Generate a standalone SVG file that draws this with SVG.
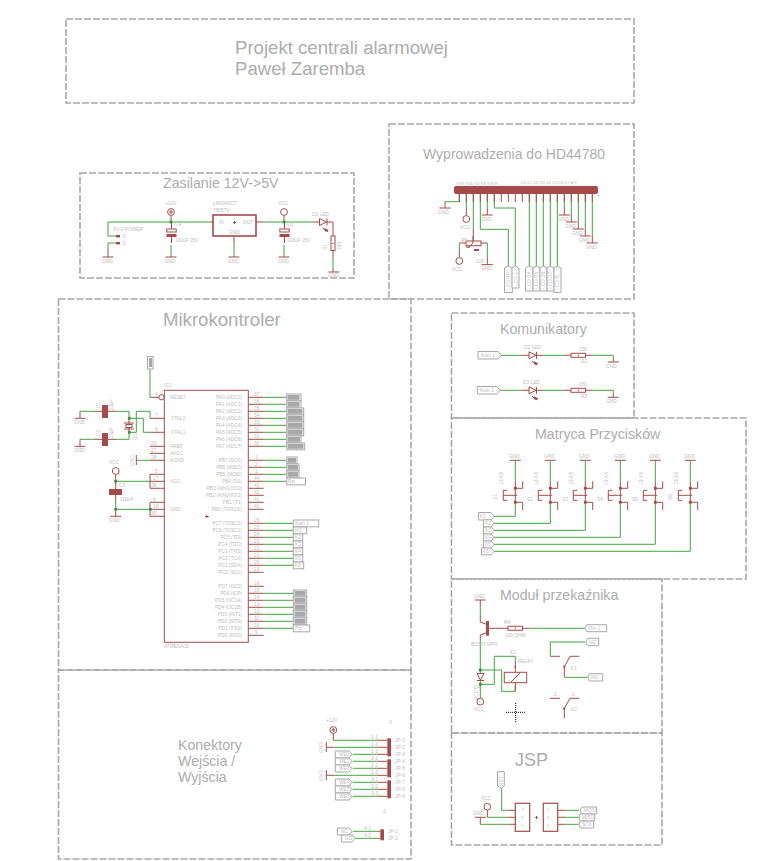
<svg xmlns="http://www.w3.org/2000/svg" xmlns:xlink="http://www.w3.org/1999/xlink" width="778" height="861" viewBox="0 0 778 861">
<style>
text{font-family:"Liberation Sans",Arial,sans-serif;fill:#adadad}
.f{fill:none;stroke:#a8a8a8;stroke-width:1.600;stroke-dasharray:7 2}
.w{fill:none;stroke:#41a541;stroke-width:1}
.r{fill:none;stroke:#a54a4a;stroke-width:1}
.s{fill:#fff;stroke:#a54a4a;stroke-width:1}
.th{fill:none;stroke:#a54a4a;stroke-width:1.600}
.k{fill:#a54a4a;stroke:none}
.j{fill:#3f8f3f;stroke:none}
.b{fill:#fff;stroke:#a8a8a8;stroke-width:1}
.bi{fill:#a8a8a8;stroke:none}
.t{font-size:4.800px;fill:#bcbcbc}
.e{font-size:4.800px;text-anchor:end;fill:#bcbcbc}
.h14{font-size:14.200px}
.h18{font-size:18.600px}
.x{fill:none;stroke:#000;stroke-width:1;stroke-dasharray:1 1}
</style>
<defs>
<path id="gnd" class="r" d="M-5.500 0H5.500"/>
<circle id="vcc" class="s" r="3.400"/>
<g id="pl"><circle class="s" r="3.400"/><path class="r" d="M-2 0H2M0-2V2"/></g>
<rect id="junc" class="j" x="-1.400" y="-1.400" width="2.800" height="2.800"/>
<g id="cap"><rect class="s" x="-4.700" y="0" width="9.400" height="3"/><rect class="k" x="-5" y="5" width="10" height="3"/><path class="r" d="M0-6V0M0 8V14"/></g>
<g id="led"><path class="s" d="M0-3.500L7 0L0 3.500Z"/><path class="r" d="M7.500-3.500V3.500"/><path class="k" d="M5 6L9 8L8 10L5 9Z"/><path class="r" d="M3 6L6 8"/></g>
<g id="res"><rect class="s" x="0" y="-2" width="14.500" height="4"/><path class="k" d="M6.700-0.400H7.700V-1.500H8V1.500H7.700V0.400H6.700Z"/></g>
<g id="sw"><path class="r" d="M-12-5H-8M-12 5H-8M-12-5V5M-12 0H-2M0-7V7M-2 0H2M0-7H7.400V-14M0 7H7.400V14.700"/><rect class="k" x="-1.400" y="-8.400" width="2.800" height="2.800"/><rect class="k" x="-1.400" y="5.600" width="2.800" height="2.800"/></g>
</defs>

<g id="frames">
<rect class="f" x="66" y="19" width="568" height="84"/>
<rect class="f" x="80" y="173" width="274" height="105"/>
<rect class="f" x="389" y="124" width="245" height="175"/>
<rect class="f" x="58.500" y="299" width="352.500" height="371"/>
<rect class="f" x="58.500" y="670" width="352.500" height="189"/>
<rect class="f" x="451.500" y="313" width="182.500" height="105"/>
<rect class="f" x="451.500" y="418" width="294.500" height="161"/>
<rect class="f" x="451.500" y="579" width="210.500" height="154"/>
<rect class="f" x="451.500" y="733" width="210.500" height="112"/>
</g>

<g id="titles">
<text class="h18" x="235" y="54">Projekt centrali alarmowej</text>
<text class="h18" x="235" y="75">Paweł Zaremba</text>
<text class="h14" x="163" y="188">Zasilanie 12V-&gt;5V</text>
<text class="h14" x="423" y="159" textLength="182" lengthAdjust="spacingAndGlyphs">Wyprowadzenia do HD44780</text>
<text class="h18" x="163" y="326">Mikrokontroler</text>
<text class="h14" x="500" y="334">Komunikatory</text>
<text class="h14" x="535" y="439">Matryca Przycisków</text>
<text class="h14" x="500" y="600">Moduł przekaźnika</text>
<text class="h14" x="178" y="750">Konektory</text>
<text class="h14" x="178" y="766">Wejścia /</text>
<text class="h14" x="178" y="782">Wyjścia</text>
<text x="515" y="766" style="font-size:18px">JSP</text>
</g>

<g id="connectors">
<path class="w" d="M120 236H108V222H210M263 222H313M108 249V243H120M171 245V257M284 245V257M234 243V257M333 258V268"/>
<path class="r" d="M108 249V257M171 216V223M284 216V223M327 222H333V236M333 251V258M333 268V272M234 236V243"/>
<path class="w" d="M459.300 194V201.700H445M466.300 194V208M473.300 194V229M480.300 194V229.300H508.300V266M487.300 194V208M494.300 194V208H515.300V266M529.300 194V266M536.300 194V266M543.300 194V266M550.300 194V266M557.300 194V266M564.300 194V208M571.300 194V215M578.300 194V222M585.300 194V229M592.300 194V236M459.300 243V250M487.300 243V257"/>
<path class="r" d="M459.300 194V202M466.300 194V202M473.300 194V202M480.300 194V202M487.300 194V202M494.300 194V202M501.300 194V202M508.300 194V202M515.300 194V202M522.300 194V202M529.300 194V202M536.300 194V202M543.300 194V202M550.300 194V202M557.300 194V202M564.300 194V202M571.300 194V202M578.300 194V202M585.300 194V202M592.300 194V202"/>
<path class="r" d="M445 201.700V208M466.300 208V215.500M473.300 229V241M459.300 243H466M481 243H487.300M459.300 250V257M487.300 257V264.600M487.300 208V215M564.300 208V215M571.300 215V222M578.300 222V229M585.300 229V236M592.300 236V243"/>
<path class="w" d="M150 369V397.300M80 411.300H94M80 439.300H94M116 411.300H129V418.300M116 439.300H129V432.300M129 418.300H143.300V432.300H150M129 432.300H136.300V411.300H150V418.300M136.300 460.300H150M115.700 481.300H150M115.700 500V509.300H150"/>
<path class="r" d="M150 397.300H159M150 418.300H164M150 432.300H164M150 446.300H164M150 453.300H164M150 460.300H164M150 474.300H164M150 481.300H164M150 488.300H164M150 502.300H164M150 509.300H164M150 516.300H164M150 474.300V488.300M150 502.300V516.300M80 411.300V418.300M80 439.300V446.300M94 411.300H102M108 411.300H116M94 439.300H102M108 439.300H116M129 418.300V424M129 432.300V428M115.700 474.400V489M115.700 495V500M115.700 509.300V516.300"/>
<path class="r" d="M248.300 397.300H263.700M248.300 404.300H263.700M248.300 411.300H263.700M248.300 418.300H263.700M248.300 425.300H263.700M248.300 432.300H263.700M248.300 439.300H263.700M248.300 446.300H263.700M248.300 460.300H263.700M248.300 467.300H263.700M248.300 474.300H263.700M248.300 481.300H263.700M248.300 488.300H263.700M248.300 495.300H263.700M248.300 502.300H263.700M248.300 509.300H263.700M248.300 523.300H263.700M248.300 530.300H263.700M248.300 537.300H263.700M248.300 544.300H263.700M248.300 551.300H263.700M248.300 558.300H263.700M248.300 565.300H263.700M248.300 572.300H263.700M248.300 586.300H263.700M248.300 593.300H263.700M248.300 600.300H263.700M248.300 607.300H263.700M248.300 614.300H263.700M248.300 621.300H263.700M248.300 628.300H263.700M248.300 635.300H263.700"/>
<path class="w" d="M263.700 397.300H286M263.700 404.300H286M263.700 411.300H286M263.700 418.300H286M263.700 425.300H286M263.700 432.300H286M263.700 439.300H286M263.700 446.300H286M263.700 460.300H286M263.700 467.300H286M263.700 474.300H286M263.700 481.300H286M263.700 523.300H293M263.700 530.300H293M263.700 537.300H293M263.700 544.300H293M263.700 551.300H293M263.700 558.300H293M263.700 565.300H293M263.700 593.300H293M263.700 600.300H293M263.700 607.300H293M263.700 614.300H293M263.700 621.300H293M263.700 628.300H293"/>
<path class="w" d="M501 355.300H522M543 355.300H564M592.700 355.300H613.300V358M499.500 390.300H522M543 390.300H564M592.700 390.300H613.300V393"/>
<path class="r" d="M522 355.300H529M537 355.300H543M564 355.300H571M586 355.300H592.700M613.300 358V362M522 390.300H529M537 390.300H543M564 390.300H571M586 390.300H592.700M613.300 393V397.300"/>
<path class="w" d="M515.300 460.300V481.300M550.300 460.300V481.300M585.300 460.300V481.300M620.300 460.300V481.300M655.300 460.300V481.300M690.300 460.300V481.300M515.300 502.300V516.300H494M550.300 502.300V523.300H494M585.300 502.300V530.300H494M620.300 502.300V537.300H494M655.300 502.300V544.300H494M690.300 502.300V551.300H494"/>
<path class="r" d="M515.300 481.300V488M550.300 481.300V488M585.300 481.300V488M620.300 481.300V488M655.300 481.300V488M690.300 481.300V488"/>
<path class="w" d="M480.300 606.700V615.700M480.300 640V698M529.300 628.300H585M480.300 670H501.700V691.300H515.300V685M480.300 684.300H494.300V656.300H515.300V662M585 642H550.300V656.300M564.300 677.300H588"/>
<path class="r" d="M480.300 600V606.700M480.300 615.700V622.300L486 624M486 633L480.300 635V640M489 628.300H508M522.300 628.300H529.300M515.300 662V672.300M515.300 682.700V691M564.300 667V677.300"/>
<path class="w" d="M333.300 740.300H376.700M333.300 747.300H376.700M353 754.300H376.700M353 761.300H376.700M353 768.300H376.700M333.300 775.300H376.700M353 782.300H376.700M353 789.300H376.700M353 796.300H376.700M353 831.300H378M355 838.300H378"/>
<path class="r" d="M333.300 733.400V740.300M326.300 747.300H333.300M326.300 775.300H333.300M376.700 740.300H387M376.700 747.300H387M376.700 754.300H387M376.700 761.300H387M376.700 768.300H387M376.700 775.300H387M376.700 782.300H387M376.700 789.300H387M376.700 796.300H387M378 831.300H380M378 838.300H380"/>
<path class="w" d="M501.700 788.300V810.300H508.300M487.300 817.300H508.300M480.300 824.300H508.300M565 810.300H579.300M565 817.300H579.300M565 824.300H579.300"/>
<path class="r" d="M508.300 810.300H515.300M508.300 817.300H515.300M508.300 824.300H515.300M557.700 810.300H565M557.700 817.300H565M557.700 824.300H565M487.300 810V817.300M480.300 817.300V824.300"/>
</g>

<g id="zasilanie">
<g id="X4"><rect class="k" x="116" y="235" width="4" height="2.400"/><rect class="k" x="116" y="242" width="4" height="2.400"/><text class="t" x="113" y="231">SV-2 POWER</text><text class="t" x="123" y="238">1</text><text class="t" x="123" y="245">2</text><use xlink:href="#gnd" x="108" y="257"/><text class="t" x="102" y="263">GND</text></g>
<g id="C4"><use xlink:href="#pl" x="171" y="212"/><text class="t" x="165" y="205">+12V</text><use xlink:href="#junc" x="171" y="222"/><use xlink:href="#cap" x="171.500" y="229"/><text class="t" x="175" y="226">C4</text><text class="t" x="175" y="242">100uF 25V</text><use xlink:href="#gnd" x="171" y="257"/><text class="t" x="165" y="263">GND</text></g>
<g id="IC1"><rect class="th" x="213" y="215" width="43" height="21"/><path class="r" d="M210 222H213M256 222H263"/><path class="k" d="M233 222H234V221H235V222H236V223H235V224H234V223H233Z"/><text class="t" x="213" y="205">LM2940CT</text><text class="t" x="213" y="212">7805TV</text><text class="t" x="219" y="224">IN</text><text class="t" x="243" y="224">OUT</text><text class="t" x="229" y="234">GND</text><use xlink:href="#gnd" x="234" y="257"/><text class="t" x="228" y="263">GND</text></g>
<g id="C5"><use xlink:href="#vcc" x="284" y="212"/><text class="t" x="278" y="205">VCC</text><use xlink:href="#junc" x="284" y="222"/><use xlink:href="#cap" x="284.500" y="229"/><text class="t" x="287" y="226">C5</text><text class="t" x="287" y="242">100uF 25V</text><use xlink:href="#gnd" x="284" y="257"/><text class="t" x="278" y="263">GND</text></g>
<g id="LED1"><path class="r" d="M313 222H319"/><use xlink:href="#led" x="319.500" y="222"/><text class="t" x="312" y="216">D1 LED</text></g>
<g id="R1"><use xlink:href="#res" transform="translate(333 236) rotate(90)"/><text class="t" transform="translate(341 250) rotate(-90)">330</text><text class="t" transform="translate(327 250) rotate(-90)">R1</text><use xlink:href="#gnd" x="334" y="272"/><text class="t" x="328" y="277">GND</text></g>
</g>

<g id="hd44780">
<g id="LCD"><rect class="k" x="454" y="186" width="144" height="8" rx="2"/>
<text class="t" x="456" y="185" style="font-size:4px">VSS VDD V0 RS RW E</text><text class="t" x="521" y="184" style="font-size:4px">D0 D1 D2 D3 D4 D5 D6 D7 A K</text>
<text class="t" x="597" y="196">1</text></g>
<use xlink:href="#gnd" x="445" y="208"/><text class="t" x="438" y="214">GND</text>
<use xlink:href="#vcc" x="466.300" y="219"/><text class="t" x="460" y="229">VCC</text>
<use xlink:href="#gnd" x="487.300" y="215"/><text class="t" x="481" y="221">GND</text>
<g id="POT"><rect class="s" x="466" y="241" width="15" height="4.700"/><path class="r" d="M473 236V243L468 248M466 247H470"/><rect class="k" x="474" y="249" width="5" height="2"/><text class="t" x="461" y="242">R5</text><use xlink:href="#vcc" x="459.300" y="261"/><text class="t" x="452" y="271">VCC</text><text class="t" x="476" y="263">10K</text><use xlink:href="#gnd" x="487.300" y="264.600"/><text class="t" x="481" y="270">GND</text></g>
<use xlink:href="#gnd" x="564.300" y="215"/><text class="t" x="558" y="221">GND</text>
<use xlink:href="#gnd" x="571.300" y="222"/><text class="t" x="565" y="228">GND</text>
<use xlink:href="#gnd" x="578.300" y="229"/><text class="t" x="572" y="235">GND</text>
<use xlink:href="#gnd" x="585.300" y="236"/><text class="t" x="579" y="242">GND</text>
<use xlink:href="#gnd" x="592.300" y="243"/><text class="t" x="586" y="249">GND</text>
<g id="lcdtags">
<path class="b" d="M504.500 292.500V268L508.300 266L512.300 268V292.500Z"/><text class="t" transform="translate(510 290) rotate(-90)">LCD RS</text>
<path class="b" d="M512 288V268L515.300 266L519 268V288Z"/><text class="t" transform="translate(517.500 286) rotate(-90)">LCD E</text>
<path class="b" d="M525.500 291V268L529.300 266L533 268V291Z"/><text class="t" transform="translate(531 289) rotate(-90)">LCD D4</text>
<path class="b" d="M533 291V268L536.300 266L540 268V291Z"/><text class="t" transform="translate(538 289) rotate(-90)">LCD D5</text>
<path class="b" d="M540 291V268L543.300 266L547 268V291Z"/><text class="t" transform="translate(545 289) rotate(-90)">LCD D6</text>
<path class="b" d="M547 291V268L550.300 266L554 268V291Z"/><text class="t" transform="translate(552 289) rotate(-90)">LCD D7</text>
<path class="b" d="M554 292.500V268L557.300 266L561 268V292.500Z"/><text class="t" transform="translate(559 290) rotate(-90)">LCD BL</text>
</g>
</g>

<g id="ATMEGA">
<rect class="r" x="164.300" y="390.300" width="84" height="252"/>
<circle class="s" cx="161.500" cy="397.300" r="2.600"/>
<text class="t" x="164" y="387">IC1</text>
<text class="t" x="164" y="648">ATMEGA32</text>
<text class="t" x="170" y="399">RESET</text><text class="t" x="171" y="420">XTAL2</text><text class="t" x="171" y="434">XTAL1</text>
<text class="t" x="170" y="448">AREF</text><text class="t" x="170" y="455">AVCC</text><text class="t" x="170" y="462">AGND</text>
<text class="t" x="170" y="483">VCC</text><text class="t" x="170" y="511">GND</text>
<text class="t" x="155" y="396">4</text><text class="t" x="155" y="417">7</text><text class="t" x="155" y="431">8</text><text class="t" x="151" y="445">29</text><text class="t" x="151" y="452">27</text><text class="t" x="151" y="459">28</text><text class="t" x="155" y="473">5</text><text class="t" x="153" y="480">17</text><text class="t" x="151" y="487">38</text><text class="t" x="153" y="501">6</text><text class="t" x="153" y="508">18</text><text class="t" x="151" y="515">39</text>
<g class="names">
<text class="e" x="242" y="399">PA0 (ADC0)</text><text class="e" x="242" y="406">PA1 (ADC1)</text><text class="e" x="242" y="413">PA2 (ADC2)</text><text class="e" x="242" y="420">PA3 (ADC3)</text><text class="e" x="242" y="427">PA4 (ADC4)</text><text class="e" x="242" y="434">PA5 (ADC5)</text><text class="e" x="242" y="441">PA6 (ADC6)</text><text class="e" x="242" y="448">PA7 (ADC7)</text>
<text class="e" x="242" y="462">PB7 (SCK)</text><text class="e" x="242" y="469">PB6 (MISO)</text><text class="e" x="242" y="476">PB5 (MOSI)</text><text class="e" x="242" y="483">PB4 (SS)</text><text class="e" x="242" y="490">PB3 (AIN1/OC0)</text><text class="e" x="242" y="497">PB2 (AIN0/INT2)</text><text class="e" x="242" y="504">PB1 (T1)</text><text class="e" x="242" y="511">PB0 (T0/XCK)</text>
<text class="e" x="242" y="525">PC7 (TOSC2)</text><text class="e" x="242" y="532">PC6 (TOSC1)</text><text class="e" x="242" y="539">PC5 (TDI)</text><text class="e" x="242" y="546">PC4 (TDO)</text><text class="e" x="242" y="553">PC3 (TMS)</text><text class="e" x="242" y="560">PC2 (TCK)</text><text class="e" x="242" y="567">PC1 (SDA)</text><text class="e" x="242" y="574">PC0 (SCL)</text>
<text class="e" x="242" y="588">PD7 (OC2)</text><text class="e" x="242" y="595">PD6 (ICP)</text><text class="e" x="242" y="602">PD5 (OC1A)</text><text class="e" x="242" y="609">PD4 (OC1B)</text><text class="e" x="242" y="616">PD3 (INT1)</text><text class="e" x="242" y="623">PD2 (INT0)</text><text class="e" x="242" y="630">PD1 (TXD)</text><text class="e" x="242" y="637">PD0 (RXD)</text>
</g>
<g class="nums">
<text class="t" x="254" y="396">37</text><text class="t" x="254" y="403">36</text><text class="t" x="254" y="410">35</text><text class="t" x="254" y="417">34</text><text class="t" x="254" y="424">33</text><text class="t" x="254" y="431">32</text><text class="t" x="254" y="438">31</text><text class="t" x="254" y="445">30</text>
<text class="t" x="255" y="459">3</text><text class="t" x="255" y="466">2</text><text class="t" x="255" y="473">1</text><text class="t" x="254" y="480">44</text><text class="t" x="254" y="487">43</text><text class="t" x="254" y="494">42</text><text class="t" x="254" y="501">41</text><text class="t" x="254" y="508">40</text>
<text class="t" x="254" y="522">26</text><text class="t" x="254" y="529">25</text><text class="t" x="254" y="536">24</text><text class="t" x="254" y="543">23</text><text class="t" x="254" y="550">22</text><text class="t" x="254" y="557">21</text><text class="t" x="254" y="564">20</text><text class="t" x="254" y="571">19</text>
<text class="t" x="254" y="585">16</text><text class="t" x="254" y="592">15</text><text class="t" x="254" y="599">14</text><text class="t" x="254" y="606">13</text><text class="t" x="254" y="613">12</text><text class="t" x="254" y="620">11</text><text class="t" x="254" y="627">10</text><text class="t" x="255" y="634">9</text>
</g>
<path class="k" d="M205 516H206.300V515H207.300V516H208.700V517H207.300V518H206.300V517H205Z"/>
</g>

<g id="reset-tag"><rect class="b" x="147.500" y="356.500" width="5.500" height="12.500"/><rect class="bi" x="149" y="358" width="3" height="9"/></g>
<g id="C1"><rect class="k" x="102" y="405" width="6" height="13"/><text class="t" transform="translate(100 408) rotate(-90)">C1</text><text class="t" transform="translate(113 410) rotate(-90)">22pF</text><use xlink:href="#gnd" x="80" y="418.300"/><text class="t" x="74" y="424">GND</text></g>
<g id="C2"><rect class="k" x="102" y="433" width="6" height="13"/><text class="t" transform="translate(100 436) rotate(-90)">C2</text><text class="t" transform="translate(113 438) rotate(-90)">22pF</text><use xlink:href="#gnd" x="80" y="446.300"/><text class="t" x="74" y="452">GND</text></g>
<g id="Q1"><path class="r" d="M124 423H134M124 429H134"/><rect class="s" x="126" y="424.500" width="6" height="3"/><use xlink:href="#junc" x="129.300" y="418.300"/><use xlink:href="#junc" x="129.300" y="432.300"/><text class="t" transform="translate(137 440) rotate(-90)">Q1</text></g>
<g id="AGND"><path class="r" d="M136.300 455V465"/><text class="t" transform="translate(134 466) rotate(-90)">GND</text></g>
<g id="C3"><use xlink:href="#vcc" x="115.700" y="471"/><text class="t" x="109" y="464">VCC</text><use xlink:href="#junc" x="115.700" y="481.300"/><rect class="k" x="109" y="489" width="13" height="6"/><text class="t" x="119" y="487">C3</text><text class="t" x="120" y="501">100nF</text><use xlink:href="#junc" x="115.700" y="509.300"/><use xlink:href="#junc" x="150.300" y="509.300"/><use xlink:href="#gnd" x="115.700" y="516.300"/><text class="t" x="109" y="522">GND</text></g>

<g id="tags-a">
<rect class="b" x="286.700" y="394" width="14.300" height="6.800"/><rect class="bi" x="287.500" y="395" width="12" height="4.800"/>
<rect class="b" x="286.700" y="401" width="14.300" height="6.800"/><rect class="bi" x="287.500" y="402" width="12" height="4.800"/>
<rect class="b" x="286.700" y="408" width="17" height="6.800"/><rect class="bi" x="287.500" y="409" width="15" height="4.800"/>
<rect class="b" x="286.700" y="415" width="17" height="6.800"/><rect class="bi" x="287.500" y="416" width="15" height="4.800"/>
<rect class="b" x="286.700" y="422" width="17" height="6.800"/><rect class="bi" x="287.500" y="423" width="15" height="4.800"/>
<rect class="b" x="286.700" y="429" width="17" height="6.800"/><rect class="bi" x="287.500" y="430" width="15" height="4.800"/>
<rect class="b" x="286.700" y="436" width="14.300" height="6.800"/><rect class="bi" x="287.500" y="437" width="12.500" height="4.800"/>
<rect class="b" x="286.700" y="443" width="18" height="6.800"/><rect class="bi" x="287.500" y="444" width="16" height="4.800"/>
</g>
<g id="tags-b">
<rect class="b" x="286.700" y="457" width="10.300" height="6.800"/><rect class="bi" x="287.500" y="458" width="8.500" height="4.800"/>
<rect class="b" x="286.700" y="464" width="12.300" height="6.800"/><rect class="bi" x="287.500" y="465" width="10.500" height="4.800"/>
<rect class="b" x="286.700" y="471" width="12.300" height="6.800"/><rect class="bi" x="287.500" y="472" width="10.500" height="4.800"/>
<rect class="b" x="286.700" y="478" width="18.800" height="6.800"/><text class="t" x="288" y="483">Rst</text>
</g>
<g id="tags-c">
<rect class="b" x="293.300" y="520" width="25.400" height="6.800"/><text class="t" x="295" y="525">Kom 1</text>
<rect class="b" x="293.300" y="527" width="13.400" height="6.800"/><text class="t" x="295" y="532">Kl1</text>
<rect class="b" x="293.300" y="534" width="9.400" height="6.800"/><text class="t" x="295" y="539">K2</text>
<rect class="b" x="293.300" y="541" width="9.400" height="6.800"/><text class="t" x="295" y="546">K3</text>
<rect class="b" x="293.300" y="548" width="9.400" height="6.800"/><text class="t" x="295" y="553">K4</text>
<rect class="b" x="293.300" y="555" width="9.400" height="6.800"/><text class="t" x="295" y="560">K5</text>
<rect class="b" x="293.300" y="562" width="10.400" height="6.800"/><text class="t" x="295" y="567">K6</text>
</g>
<g id="tags-d">
<rect class="b" x="293.300" y="590" width="13.400" height="6.800"/><rect class="bi" x="294.500" y="591" width="11" height="4.800"/>
<rect class="b" x="293.300" y="597" width="13.400" height="6.800"/><rect class="bi" x="294.500" y="598" width="11" height="4.800"/>
<rect class="b" x="293.300" y="604" width="13.400" height="6.800"/><rect class="bi" x="294.500" y="605" width="11" height="4.800"/>
<rect class="b" x="293.300" y="611" width="13.400" height="6.800"/><rect class="bi" x="294.500" y="612" width="11" height="4.800"/>
<rect class="b" x="293.300" y="618" width="13.400" height="6.800"/><rect class="bi" x="294.500" y="619" width="11" height="4.800"/>
<rect class="b" x="293.300" y="625" width="16.400" height="6.800"/><text class="t" x="295" y="630">Prz</text>
</g>

<g id="komunikatory">
<g id="K1"><path class="b" d="M478 351.500H498L501 355.300L498 359H478Z"/><text class="t" x="481" y="357">Kom 1</text><use xlink:href="#led" x="529" y="355.300"/><text class="t" x="524" y="349">D2 LED</text><use xlink:href="#res" x="571" y="355.300"/><text class="t" x="579" y="351">330</text><text class="t" x="581" y="363">R2</text><use xlink:href="#gnd" x="613.300" y="362"/><text class="t" x="606" y="368">GND</text></g>
<g id="K2"><path class="b" d="M477.300 386.500H497L500 390.300L497 394H477.300Z"/><text class="t" x="480" y="392">Kom 2</text><use xlink:href="#led" x="529" y="390.300"/><text class="t" x="523" y="384">D3 LED</text><use xlink:href="#res" x="571" y="390.300"/><text class="t" x="579" y="386">330</text><text class="t" x="581" y="398">R3</text><use xlink:href="#gnd" x="613.300" y="397.300"/><text class="t" x="606" y="403">GND</text></g>
</g>

<g id="matryca">
<g id="S1"><use xlink:href="#gnd" x="515.300" y="460.300"/><text class="t" x="509" y="458">GND</text><use xlink:href="#sw" x="515.300" y="495.300"/><text class="t" transform="translate(503 485) rotate(-90)">10-XX</text><text class="t" transform="translate(497 500) rotate(-90)">S1</text></g>
<g id="S2"><use xlink:href="#gnd" x="550.300" y="460.300"/><text class="t" x="544" y="458">GND</text><use xlink:href="#sw" x="550.300" y="495.300"/><text class="t" transform="translate(538 485) rotate(-90)">10-XX</text><text class="t" x="527" y="501">S2</text></g>
<g id="S3"><use xlink:href="#gnd" x="585.300" y="460.300"/><text class="t" x="579" y="458">GND</text><use xlink:href="#sw" x="585.300" y="495.300"/><text class="t" transform="translate(573 485) rotate(-90)">10-XX</text><text class="t" x="562" y="501">S3</text></g>
<g id="S4"><use xlink:href="#gnd" x="620.300" y="460.300"/><text class="t" x="614" y="458">GND</text><use xlink:href="#sw" x="620.300" y="495.300"/><text class="t" transform="translate(608 485) rotate(-90)">10-XX</text><text class="t" x="597" y="501">S4</text></g>
<g id="S5"><use xlink:href="#gnd" x="655.300" y="460.300"/><text class="t" x="649" y="458">GND</text><use xlink:href="#sw" x="655.300" y="495.300"/><text class="t" transform="translate(643 485) rotate(-90)">10-XX</text><text class="t" x="632" y="501">S5</text></g>
<g id="S6"><use xlink:href="#gnd" x="690.300" y="460.300"/><text class="t" x="684" y="458">GND</text><use xlink:href="#sw" x="690.300" y="495.300"/><text class="t" transform="translate(678 485) rotate(-90)">10-XX</text><text class="t" transform="translate(672 500) rotate(-90)">S6</text></g>
<g id="mtags">
<path class="b" d="M478.500 512.500H491L494 516.300L491 520H478.500Z"/><text class="t" x="480" y="518">K1</text>
<path class="b" d="M483.500 519.800H491L494 523.300L491 527H483.500Z"/><text class="t" x="485" y="525">K2</text>
<path class="b" d="M483.500 527H491L494 530.300L491 534H483.500Z"/><text class="t" x="485" y="532">K3</text>
<path class="b" d="M483.500 534H491L494 537.300L491 541H483.500Z"/><text class="t" x="485" y="539">K4</text>
<path class="b" d="M483.500 541H491L494 544.300L491 548H483.500Z"/><text class="t" x="485" y="546">K5</text>
<path class="b" d="M481.500 548H491L494 551.300L491 554.800H481.500Z"/><text class="t" x="483" y="553">K6</text>
</g>
</g>

<g id="modul">
<g id="T1"><use xlink:href="#gnd" x="480.300" y="600"/><text class="t" x="474" y="598">GND</text><rect class="k" x="486" y="621" width="3" height="14.700"/><text class="t" x="471" y="646">BC547 NPN</text></g>
<g id="R4"><use xlink:href="#res" x="508" y="628.300"/><text class="t" x="504" y="624">R4</text><text class="t" x="505" y="637">100 OHM</text><path class="b" d="M586.700 624.700H606.700V631.700H586.700L585 628.300Z"/><text class="t" x="589" y="630">Prz 1</text></g>
<g id="D4"><use xlink:href="#junc" x="480.300" y="670"/><path class="s" d="M477 673.500H484L480.500 680Z"/><path class="r" d="M477 680.500H484"/><use xlink:href="#junc" x="480.300" y="684.300"/><text class="t" x="474" y="689">D4</text></g>
<g id="VCCR"><use xlink:href="#vcc" x="480.300" y="701.700"/><text class="t" transform="translate(478 700) rotate(-90)">VCC</text><text class="t" x="474" y="711">VCC</text></g>
<g id="K1R"><rect class="r" x="504.300" y="672.300" width="22.400" height="10.400"/><path class="r" d="M511 682L520 673"/><rect class="k" x="514.500" y="666" width="1.500" height="1.500"/><text class="t" x="510" y="654">K1</text><text class="t" x="518" y="663">RELAY</text></g>
<g id="SW1"><path class="r" d="M550.300 656.300H560M570 656.300H579.300M570 656.300L564.300 667"/><rect class="k" x="563.300" y="665.500" width="2" height="2"/><text class="t" x="571" y="670">K1</text></g>
<g id="TAGS"><path class="b" d="M587.700 638.300H598.700V645.700H587.700L586 642Z"/><text class="t" x="589" y="644">NC</text><path class="b" d="M589.300 673.700H602.700V681H589.300L588 677.300Z"/><text class="t" x="591" y="679">NO</text></g>
<g id="SW2"><path class="r" d="M550 698.300H560M570 698.300H579.300M570 698.300L564.300 708.300V718"/><rect class="k" x="563.300" y="707.500" width="2" height="2"/><text class="t" x="571" y="711">K2</text><text class="t" x="554" y="696">1</text><text class="t" x="572" y="696">2</text></g>
<g id="origin"><path class="x" d="M506 712.300H525M515.700 703V722"/></g>
</g>

<g id="konektory">
<g id="VCCK"><use xlink:href="#pl" x="333.300" y="730"/><text class="t" x="326" y="722">+12V</text></g>
<g id="GK1"><path class="r" d="M326.300 742V752"/><text class="t" transform="translate(323 753) rotate(-90)">GND</text></g>
<g id="GK2"><path class="r" d="M326.300 770V780"/><text class="t" transform="translate(323 781) rotate(-90)">GND</text></g>
<g id="JP1"><rect class="k" x="387.300" y="738.300" width="3.700" height="18"/><rect class="k" x="387.300" y="759.300" width="3.700" height="18"/><rect class="k" x="387.300" y="780.300" width="3.700" height="18"/><rect class="k" x="380.300" y="829.300" width="3.700" height="11"/>
<text class="t" x="371" y="739">1-1</text><text class="t" x="371" y="746">1-2</text><text class="t" x="371" y="753">1-3</text><text class="t" x="371" y="760">2-1</text><text class="t" x="371" y="767">2-2</text><text class="t" x="371" y="774">2-3</text><text class="t" x="371" y="781">3-1</text><text class="t" x="371" y="788">3-2</text><text class="t" x="371" y="795">3-3</text><text class="t" x="364" y="830">4-1</text><text class="t" x="364" y="837">4-2</text>
<text class="t" x="395" y="742">JP-1</text><text class="t" x="395" y="749">JP-2</text><text class="t" x="395" y="756">JP-3</text><text class="t" x="395" y="763">JP-4</text><text class="t" x="395" y="770">JP-5</text><text class="t" x="395" y="777">JP-6</text><text class="t" x="395" y="784">JP-7</text><text class="t" x="395" y="791">JP-8</text><text class="t" x="395" y="798">JP-9</text><text class="t" x="388" y="833">JP-1</text><text class="t" x="388" y="840">JP-2</text>
<text class="t" x="389" y="724">3</text><text class="t" x="383" y="813">2</text></g>
<g id="ktags">
<path class="b" d="M335.300 751H349L352 754.300L349 758H335.300Z"/><text class="t" x="339" y="756">WE1</text>
<path class="b" d="M335.300 758H349L352 761.300L349 765H335.300Z"/><text class="t" x="339" y="763">WE2</text>
<path class="b" d="M335.300 765H349L352 768.300L349 772H335.300Z"/><text class="t" x="339" y="770">WE3</text>
<path class="b" d="M335.300 779H349L352 782.300L349 786H335.300Z"/><text class="t" x="339" y="784">WE4</text>
<path class="b" d="M335.300 786H349L352 789.300L349 793H335.300Z"/><text class="t" x="339" y="791">WE5</text>
<path class="b" d="M335.300 793H349L352 796.300L349 800H335.300Z"/><text class="t" x="339" y="798">WE6</text>
<path class="b" d="M337.300 828H349L352 831.300L349 835H337.300Z"/><text class="t" x="341" y="833">NC</text>
<path class="b" d="M341.300 835H352L355 838.300L352 842H341.300Z"/><text class="t" x="345" y="840">NO</text>
</g>
</g>

<g id="jsp">
<g id="ISPTAG"><path class="b" d="M497.500 771.700H504.300V786L501 788.300L497.500 786Z"/><text class="t" transform="translate(502.500 786) rotate(-90)">RST</text></g>
<g id="V"><use xlink:href="#vcc" x="487.300" y="806.700"/><text class="t" x="481" y="800">VCC</text><use xlink:href="#gnd" x="480.300" y="817.300"/><text class="t" x="473" y="815">GND</text></g>
<g id="CONA"><rect class="r" style="stroke-width:1.200" x="515.300" y="803.300" width="14.400" height="28"/><text class="t" x="522" y="811" style="font-size:4px">1</text><text class="t" x="521" y="819" style="font-size:4px">3</text><text class="t" x="521" y="827" style="font-size:4px">5</text></g>
<path class="k" d="M535.300 817H536V816H537V817H537.700V818H537V819H536V818H535.300Z"/>
<g id="CONB"><rect class="r" style="stroke-width:1.200" x="543.300" y="803.300" width="14.400" height="28"/><text class="t" x="547" y="811" style="font-size:4px">2</text><text class="t" x="547" y="819" style="font-size:4px">4</text><text class="t" x="547" y="827" style="font-size:4px">6</text></g>
<g id="jt"><path class="b" d="M582 807H596.700V814H582L580 810.300Z"/><text class="t" x="584" y="812">MOSI</text><path class="b" d="M580.300 814H594.700V821H580.300L579 817.300Z"/><text class="t" x="582" y="819">MISO</text><path class="b" d="M580.300 821H593.700V828H580.300L579 824.300Z"/><text class="t" x="582" y="826">SCK</text></g>
</g>
</svg>
